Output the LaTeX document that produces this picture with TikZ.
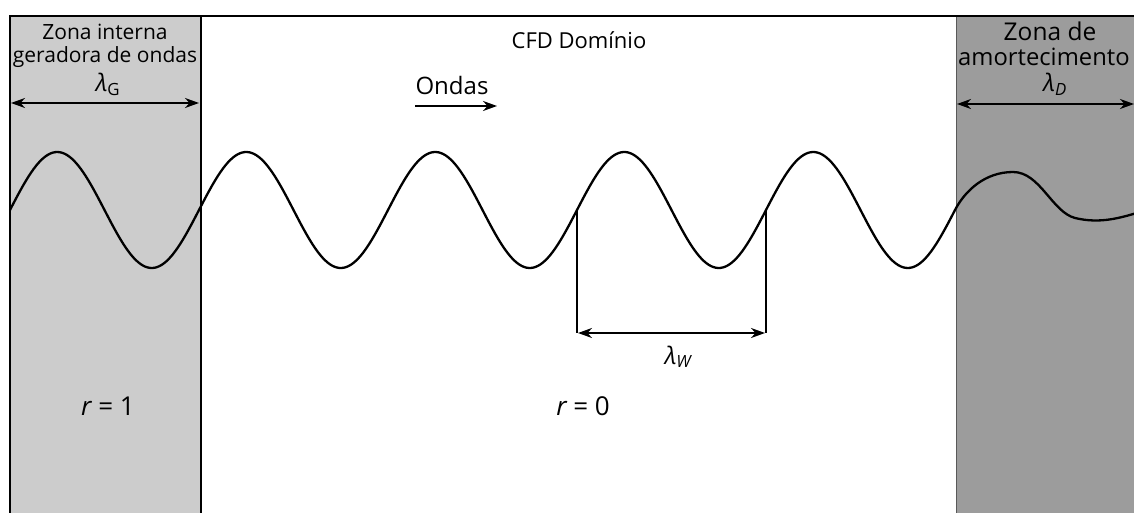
\documentclass[tikz,border=0pt]{standalone}
\usepackage{fontspec}
\setmainfont{Open Sans}
\usetikzlibrary{arrows.meta}
\definecolor{genzone}{HTML}{CCCCCC}
\definecolor{dampzone}{HTML}{9C9C9C}
\tikzset{
  lbl/.style={inner sep=0pt, anchor=base, font=\fontsize{21}{25}\selectfont},
  biglbl/.style={inner sep=0pt, anchor=base, font=\fontsize{24.5}{28}\selectfont},
  mathlbl/.style={inner sep=0pt, anchor=base, font=\fontsize{24}{28}\selectfont},
  dim/.style={line width=2.2pt, {Stealth[length=14pt,width=10pt]}-{Stealth[length=14pt,width=10pt]}},
  waveline/.style={line width=2.3pt, line join=round},
  boxline/.style={line width=2.4pt},
}
\begin{document}
\begin{tikzpicture}[x=1pt,y=-1pt]
\useasboundingbox (0,0) rectangle (1134,513);
\clip (0,0) rectangle (1134,513);
% zones
\fill[genzone] (10,16) rectangle (201,520);
\fill[dampzone] (956,16) rectangle (1140,520);
\draw[line width=1pt, gray!70!black] (956,16) -- (956,520);
\draw[boxline] (10,520) -- (10,16) -- (1140,16);
\draw[boxline] (201,16) -- (201,520);
% wave
\draw[waveline] plot[domain=10:955, samples=400] (\x, {210 - 58*sin(1.904762*(\x-10))})
  .. controls (965,190.7) and (985,172) .. (1013,172)
  .. controls (1040,172) and (1052,212) .. (1075,218)
  .. controls (1100,224) and (1120,218) .. (1140,212);
% generating zone
\node[lbl] (gen1) at (105,40) {Zona interna};
\node[lbl] (gen2) at (105,63) {geradora de ondas};
\node[mathlbl] (lamG) at (108,92) {\itshape λ\textsubscript{\upshape G}};
\coordinate (gL) at (11,103);
\coordinate (gR) at (199,103);
\draw[dim] (gL) -- (gR);
% damping zone
\node[biglbl] (damp1) at (1050,41) {Zona de};
\node[biglbl, anchor=base west, font=\fontsize{23.8}{28}\selectfont] (damp2) at (958,66) {amortecimento};
\node[mathlbl] (lamD) at (1055,92) {\itshape λ\textsubscript{D}};
\coordinate (dL) at (957,104);
\coordinate (dR) at (1134,104);
\draw[dim] (dL) -- (dR);
% domain
\node[lbl, font=\fontsize{22}{25}\selectfont] (cfd) at (579,49) {CFD Domínio};
\node[lbl, font=\fontsize{24}{28}\selectfont] (ondas) at (452,95) {Ondas};
\coordinate (oL) at (415,106);
\coordinate (oR) at (497,106);
\draw[line width=2.2pt, -{Stealth[length=14pt,width=10pt]}] (oL) -- (oR);
% wavelength
\coordinate (w1) at (577,210);
\coordinate (w2) at (766,210);
\coordinate (w1b) at (577,333);
\coordinate (w2b) at (766,333);
\draw[line width=2.2pt] (w1) -- (w1b);
\draw[line width=2.2pt] (w2) -- (w2b);
\draw[dim] ([xshift=1pt]w1b) -- ([xshift=-1pt]w2b);
\node[mathlbl] (lamW) at (678,364) {\itshape λ\textsubscript{W}};
\node[mathlbl, font=\fontsize{26}{28}\selectfont] (r1) at (108,415) {{\itshape r} = 1};
\node[mathlbl, font=\fontsize{26}{28}\selectfont] (r0) at (583,415) {{\itshape r} = 0};
\end{tikzpicture}
\end{document}
